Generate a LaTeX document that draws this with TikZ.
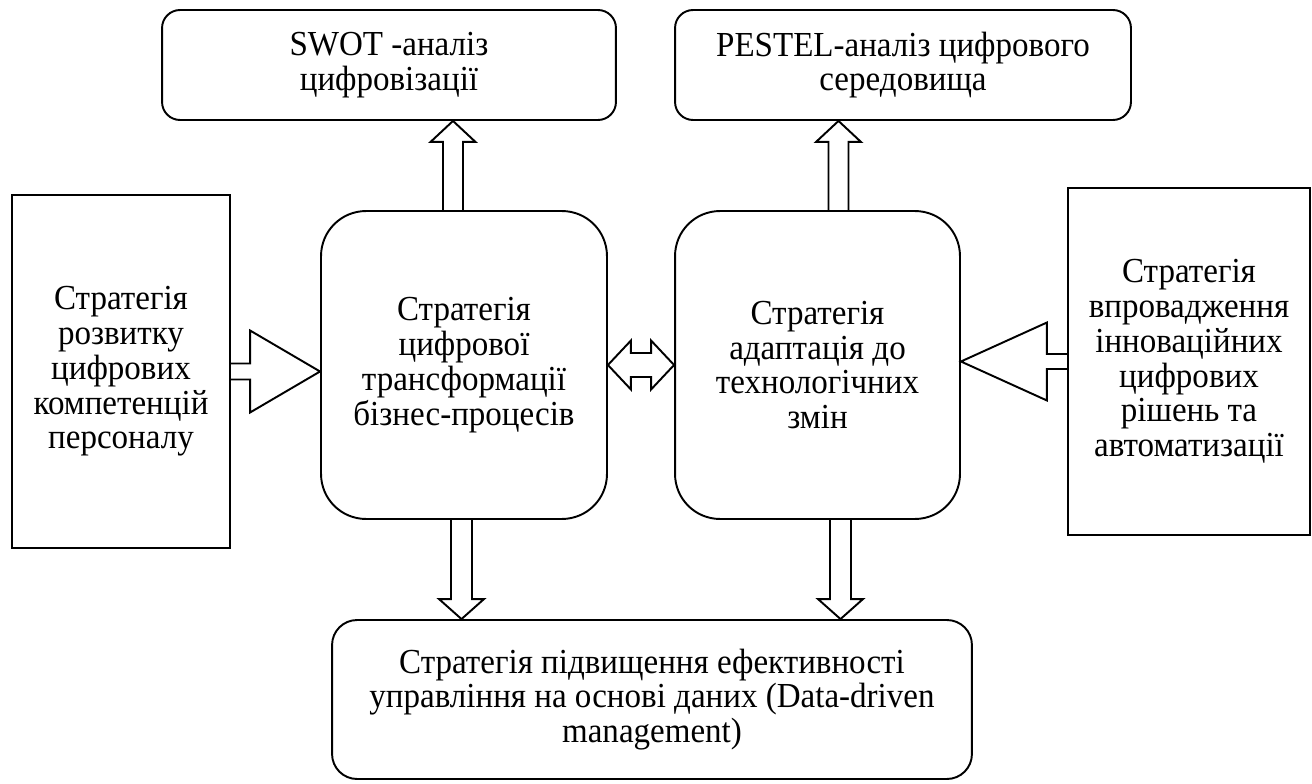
\documentclass[tikz,border=0pt]{standalone}
\usepackage{fontspec}
\setmainfont[FakeStretch=0.94]{Liberation Serif}
\usepackage{tikz}
\usetikzlibrary{calc}
\setlength{\lineskiplimit}{-10pt}
\def\pxu{0.5691pt}
\newcommand{\vblock}[5]{%
  \draw[blk] let \p1=#1, \p2=#2, \n1={\y2-(#5)*\pxu} in
    ({\x1-#3*\pxu},\y1) -- ({\x1-#3*\pxu},\n1) -- ({\x1-#4*\pxu},\n1) -- (\x1,\y2)
    -- ({\x1+#4*\pxu},\n1) -- ({\x1+#3*\pxu},\n1) -- ({\x1+#3*\pxu},\y1);}
\newcommand{\hblock}[5]{%
  \draw[blk] let \p1=#1, \p2=#2, \n1={\x2-(#5)*\pxu} in
    (\x1,{\y1+#3*\pxu}) -- (\n1,{\y1+#3*\pxu}) -- (\n1,{\y1+#4*\pxu}) -- (\x2,\y1)
    -- (\n1,{\y1-#4*\pxu}) -- (\n1,{\y1-#3*\pxu}) -- (\x1,{\y1-#3*\pxu});}

\begin{document}
\begin{tikzpicture}[x=0.02cm, y=-0.02cm,
    box/.style={draw, line width=1.1pt, align=center, inner sep=0pt, font=\fontsize{20}{19.8}\selectfont},
    topbox/.style={box, rounded corners=0.36cm, minimum height=2.2cm},
    corebox/.style={box, rounded corners=0.9cm, minimum height=6.16cm},
    sidebox/.style={box},
    basebox/.style={box, rounded corners=0.5cm},
    blk/.style={draw, line width=1.1pt, line join=miter}
]
\useasboundingbox (0,0) rectangle (1312,784);

\node[topbox, minimum width=9.08cm] (swot) at (389,65) {SWOT -аналіз\\цифровізації};
\node[topbox, minimum width=9.12cm] (pestel) at (903,65) {PESTEL-аналіз цифрового\\середовища};
\node[sidebox, minimum width=4.36cm, minimum height=7.06cm] (persn) at (121,371.5) {Стратегія\\розвитку\\цифрових\\компетенцій\\персоналу};
\node[corebox, minimum width=5.72cm] (dig) at (464,365) {Стратегія\\цифрової\\трансформації\\бізнес-процесів};
\node[corebox, minimum width=5.7cm] (adapt) at (817.5,365) {Стратегія\\адаптація до\\технологічних\\змін};
\node[sidebox, minimum width=4.84cm, minimum height=6.94cm] (innov) at (1189,361.5) {Стратегія\\впровадження\\інноваційних\\цифрових\\рішень та\\автоматизації};
\node[basebox, minimum width=12.8cm, minimum height=3.18cm] (data) at (652,699.5) {Стратегія підвищення ефективності\\управління на основі даних (Data-driven\\management)};

\vblock{([xshift=-11*\pxu]dig.north)}{(swot.south)}{10}{22.5}{21}
\vblock{([xshift=21*\pxu]adapt.north)}{(pestel.south)}{10}{22.5}{21}
\vblock{([xshift=-2.5*\pxu]dig.south)}{(data.north)}{10.5}{22.5}{-20}
\vblock{([xshift=23*\pxu]adapt.south)}{(data.north)}{10.5}{22.5}{-20}
\hblock{(persn.east)}{(dig.west)}{8}{41}{70}
\hblock{(innov.west)}{(adapt.east)}{7.5}{39}{-86}
\draw[blk] let \p1=(dig.east), \p2=(adapt.west) in
  (\x1,\y1) -- ({\x1+23*\pxu},{\y1+24.5*\pxu}) -- ({\x1+23*\pxu},{\y1+12*\pxu}) -- ({\x2-23*\pxu},{\y1+12*\pxu})
  -- ({\x2-23*\pxu},{\y1+24.5*\pxu}) -- (\x2,\y1) -- ({\x2-23*\pxu},{\y1-24.5*\pxu}) -- ({\x2-23*\pxu},{\y1-12*\pxu})
  -- ({\x1+23*\pxu},{\y1-12*\pxu}) -- ({\x1+23*\pxu},{\y1-24.5*\pxu}) -- cycle;
\end{tikzpicture}
\end{document}
